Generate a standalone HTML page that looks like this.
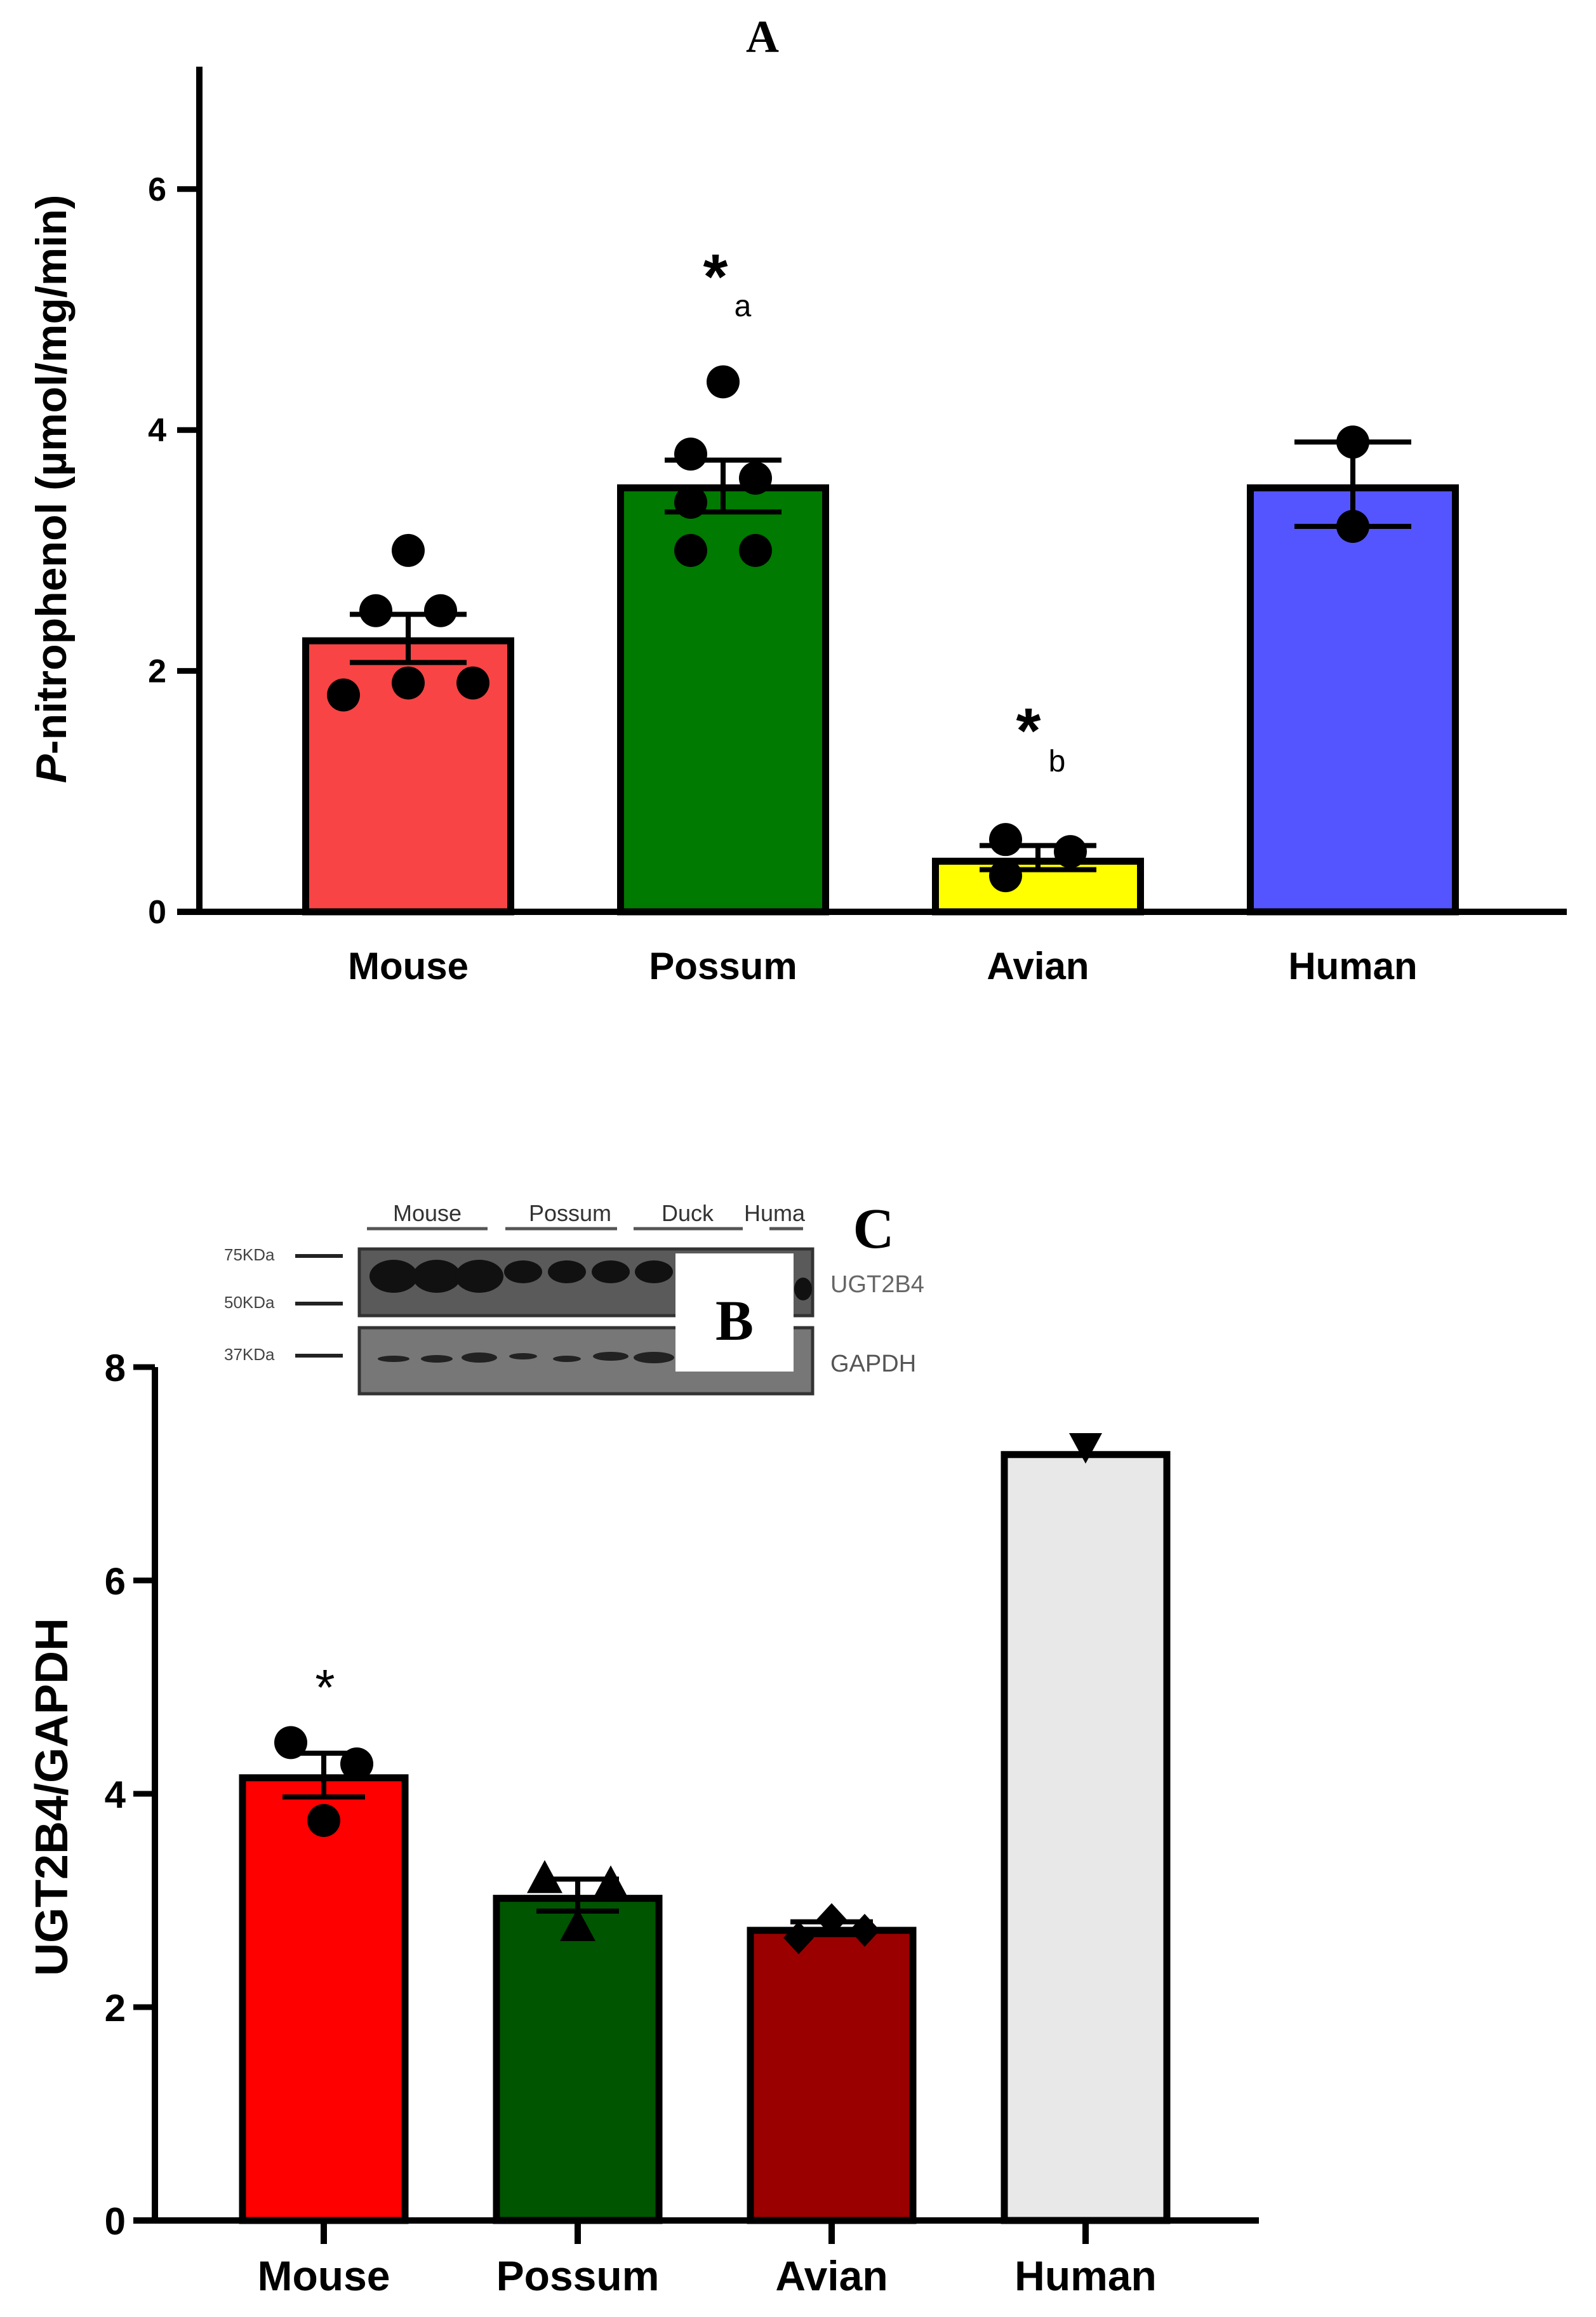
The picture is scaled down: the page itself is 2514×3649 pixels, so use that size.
<!DOCTYPE html>
<html><head><meta charset="utf-8"><style>
html,body{margin:0;padding:0;background:#fff;}
svg{display:block;font-family:"Liberation Sans",sans-serif;}
</style></head><body>
<svg id="fig" width="2514" height="3649" viewBox="0 0 2514 3649">
<text x="1201" y="82" font-family="Liberation Serif" font-weight="bold" font-size="72" text-anchor="middle">A</text>
<g id="gA"></g>
<g id="gB"></g>
<g>
  <text x="673" y="1923" font-size="36" fill="#333" text-anchor="middle">Mouse</text>
  <line x1="578" y1="1935" x2="768" y2="1935" stroke="#555" stroke-width="5"/>
  <text x="898" y="1923" font-size="36" fill="#333" text-anchor="middle">Possum</text>
  <line x1="796" y1="1935" x2="972" y2="1935" stroke="#555" stroke-width="5"/>
  <text x="1083" y="1923" font-size="36" fill="#333" text-anchor="middle">Duck</text>
  <line x1="998" y1="1935" x2="1170" y2="1935" stroke="#555" stroke-width="5"/>
  <text x="1172" y="1923" font-size="36" fill="#333">Huma</text>
  <line x1="1212" y1="1935" x2="1265" y2="1935" stroke="#555" stroke-width="5"/>
  <text x="353" y="1985" font-size="26" fill="#444">75KDa</text>
  <line x1="465" y1="1978" x2="540" y2="1978" stroke="#222" stroke-width="6"/>
  <text x="353" y="2060" font-size="26" fill="#444">50KDa</text>
  <line x1="465" y1="2053" x2="540" y2="2053" stroke="#222" stroke-width="6"/>
  <text x="353" y="2142" font-size="26" fill="#444">37KDa</text>
  <line x1="465" y1="2135" x2="540" y2="2135" stroke="#222" stroke-width="6"/>
  <rect x="566" y="1967" width="714" height="105" fill="#5a5a5a" stroke="#333" stroke-width="5"/>
  <g fill="#111">
    <ellipse cx="620" cy="2010" rx="38" ry="26"/><ellipse cx="688" cy="2010" rx="38" ry="26"/><ellipse cx="755" cy="2010" rx="38" ry="26"/>
    <ellipse cx="824" cy="2003" rx="30" ry="18"/><ellipse cx="893" cy="2003" rx="30" ry="18"/><ellipse cx="962" cy="2003" rx="30" ry="18"/>
    <ellipse cx="1030" cy="2003" rx="30" ry="18"/><ellipse cx="1265" cy="2030" rx="14" ry="18"/>
  </g>
  <rect x="566" y="2091" width="714" height="104" fill="#777" stroke="#333" stroke-width="5"/>
  <g fill="#222">
    <ellipse cx="620" cy="2140" rx="25" ry="5"/><ellipse cx="688" cy="2140" rx="25" ry="6"/><ellipse cx="755" cy="2138" rx="28" ry="8"/>
    <ellipse cx="824" cy="2136" rx="22" ry="5"/><ellipse cx="893" cy="2140" rx="22" ry="5"/><ellipse cx="962" cy="2136" rx="28" ry="7"/><ellipse cx="1030" cy="2138" rx="32" ry="9"/>
  </g>
  <text x="1308" y="2035" font-size="38" fill="#666">UGT2B4</text>
  <text x="1308" y="2160" font-size="38" fill="#555">GAPDH</text>
  <rect x="1064" y="1974" width="186" height="186" fill="#fff"/>
  <text x="1157" y="2110" font-family="Liberation Serif" font-weight="bold" font-size="90" text-anchor="middle">B</text>
  <rect x="1322" y="1870" width="100" height="110" fill="#fff"/>
  <text x="1376" y="1965" font-family="Liberation Serif" font-weight="bold" font-size="90" text-anchor="middle">C</text>
</g>
</svg>
<script>
const NS='http://www.w3.org/2000/svg';
function mk(p,t,a){const e=document.createElementNS(NS,t);for(const k in a)e.setAttribute(k,a[k]);p.appendChild(e);return e;}

// Panel A data
const catsA=['Mouse','Possum','Avian','Human'];
const meanA=[2.25,3.52,0.42,3.52];
const errLoA=[2.07,3.32,0.35,3.2];
const errHiA=[2.47,3.75,0.55,3.9];
const ptsA=[[1.8,2.5,3.0,1.9,2.5,1.9],[3.0,3.8,3.4,4.4,3.6,3.0],[0.6,0.3,0.5],[3.9,3.2]];
const ptsOffA=[[-2,-1,0,0,1,2],[-1,-1,-1,0,1,1],[-1,-1,1],[0,0]];
const colorsA=['#f84444','#007a00','#ffff00','#5555ff'];
const ticksA=[0,2,4,6];

// Panel B data
const catsB=['Mouse','Possum','Avian','Human'];
const meanB=[4.15,3.02,2.72,7.18];
const errLoB=[3.97,2.9,2.68,7.18];
const errHiB=[4.38,3.2,2.8,7.18];
const ptsB=[[4.48,4.28,3.75],[3.2,3.15,2.75],[2.65,2.82,2.72],[7.25]];
const ptsOffB=[[-1,1,0],[-1,1,0],[-1,0,1],[0]];
const colorsB=['#ff0000','#005500','#9b0000','#e8e8e8'];
const ticksB=[0,2,4,6,8];

// Panel A
(function(){
const g=document.getElementById('gA');
const y=v=>1436-v*189.7, x=i=>643+i*496, bw=323;
mk(g,'line',{x1:314,y1:105,x2:314,y2:1441,stroke:'#000','stroke-width':10});
mk(g,'line',{x1:279,y1:1436,x2:2468,y2:1436,stroke:'#000','stroke-width':10});
ticksA.forEach(t=>{
 mk(g,'line',{x1:279,y1:y(t),x2:314,y2:y(t),stroke:'#000','stroke-width':9});
 const tx=mk(g,'text',{x:262,y:y(t)+18,'font-size':52,'font-weight':'bold','text-anchor':'end'});tx.textContent=t;
 
 
});
catsA.forEach((c,i)=>{
 const r=mk(g,'rect',{x:x(i)-bw/2,y:y(meanA[i]),width:bw,height:y(0)-y(meanA[i]),fill:colorsA[i],stroke:'#000','stroke-width':11});
 
 
 mk(g,'line',{x1:x(i),y1:y(errLoA[i]),x2:x(i),y2:y(errHiA[i]),stroke:'#000','stroke-width':8});
 mk(g,'line',{x1:x(i)-92,y1:y(errLoA[i]),x2:x(i)+92,y2:y(errLoA[i]),stroke:'#000','stroke-width':8});
 mk(g,'line',{x1:x(i)-92,y1:y(errHiA[i]),x2:x(i)+92,y2:y(errHiA[i]),stroke:'#000','stroke-width':8});
 ptsA[i].forEach((v,j)=>{
  const d=mk(g,'circle',{cx:x(i)+ptsOffA[i][j]*51,cy:y(v),r:26,fill:'#000'});
  
  
 });
 const l=mk(g,'text',{x:x(i),y:1542,'font-size':60,'font-weight':'bold','text-anchor':'middle'});l.textContent=c;
 
 
});
const s1=mk(g,'text',{x:1127,y:470,'font-size':100,'font-weight':'bold','text-anchor':'middle'});s1.textContent='*';


const a1=mk(g,'text',{x:1170,y:498,'font-size':48,'text-anchor':'middle'});a1.textContent='a';


const s2=mk(g,'text',{x:1620,y:1185,'font-size':100,'font-weight':'bold','text-anchor':'middle'});s2.textContent='*';


const b1=mk(g,'text',{x:1665,y:1215,'font-size':48,'text-anchor':'middle'});b1.textContent='b';


const yt=mk(g,'text',{x:0,y:0,'font-size':68,'font-weight':'bold','text-anchor':'middle',transform:'translate(104,770) rotate(-90)'});
yt.innerHTML='<tspan font-style="italic">P</tspan>-nitrophenol (µmol/mg/min)';


})();

// Panel B
(function(){
const g=document.getElementById('gB');
const y=v=>3497-v*168, x=i=>510+i*400, bw=256;
mk(g,'line',{x1:244,y1:2153,x2:244,y2:3502,stroke:'#000','stroke-width':10});
mk(g,'line',{x1:210,y1:3497,x2:1983,y2:3497,stroke:'#000','stroke-width':10});
ticksB.forEach(t=>{
 mk(g,'line',{x1:210,y1:y(t),x2:244,y2:y(t),stroke:'#000','stroke-width':9});
 const tx=mk(g,'text',{x:198,y:y(t)+22,'font-size':60,'font-weight':'bold','text-anchor':'end'});tx.textContent=t;
 
 
});
catsB.forEach((c,i)=>{
 mk(g,'line',{x1:x(i),y1:3497,x2:x(i),y2:3534,stroke:'#000','stroke-width':10});
 const r=mk(g,'rect',{x:x(i)-bw/2,y:y(meanB[i]),width:bw,height:y(0)-y(meanB[i]),fill:colorsB[i],stroke:'#000','stroke-width':11});
 
 
 if(errHiB[i]>errLoB[i]){
  mk(g,'line',{x1:x(i),y1:y(errLoB[i]),x2:x(i),y2:y(errHiB[i]),stroke:'#000','stroke-width':8});
  mk(g,'line',{x1:x(i)-65,y1:y(errLoB[i]),x2:x(i)+65,y2:y(errLoB[i]),stroke:'#000','stroke-width':8});
  mk(g,'line',{x1:x(i)-65,y1:y(errHiB[i]),x2:x(i)+65,y2:y(errHiB[i]),stroke:'#000','stroke-width':8});
 }
 ptsB[i].forEach((v,j)=>{
  const cx=x(i)+ptsOffB[i][j]*52, cy=y(v); let d;
  if(i===0) d=mk(g,'circle',{cx:cx,cy:cy,r:26,fill:'#000'});
  else if(i===1) d=mk(g,'polygon',{points:`${cx},${cy-30} ${cx-28},${cy+22} ${cx+28},${cy+22}`,fill:'#000'});
  else if(i===2) d=mk(g,'polygon',{points:`${cx},${cy-26} ${cx+24},${cy} ${cx},${cy+26} ${cx-24},${cy}`,fill:'#000'});
  else d=mk(g,'polygon',{points:`${cx-26},${cy-22} ${cx+26},${cy-22} ${cx},${cy+26}`,fill:'#000'});
  
  
 });
 const l=mk(g,'text',{x:x(i),y:3607,'font-size':66,'font-weight':'bold','text-anchor':'middle'});l.textContent=c;
 
 
});
const s=mk(g,'text',{x:512,y:2685,'font-size':80,'text-anchor':'middle'});s.textContent='*';


const yt=mk(g,'text',{x:0,y:0,'font-size':72,'font-weight':'bold','text-anchor':'middle',transform:'translate(106,2830) rotate(-90)'});yt.textContent='UGT2B4/GAPDH';


})();
</script>
</body></html>
